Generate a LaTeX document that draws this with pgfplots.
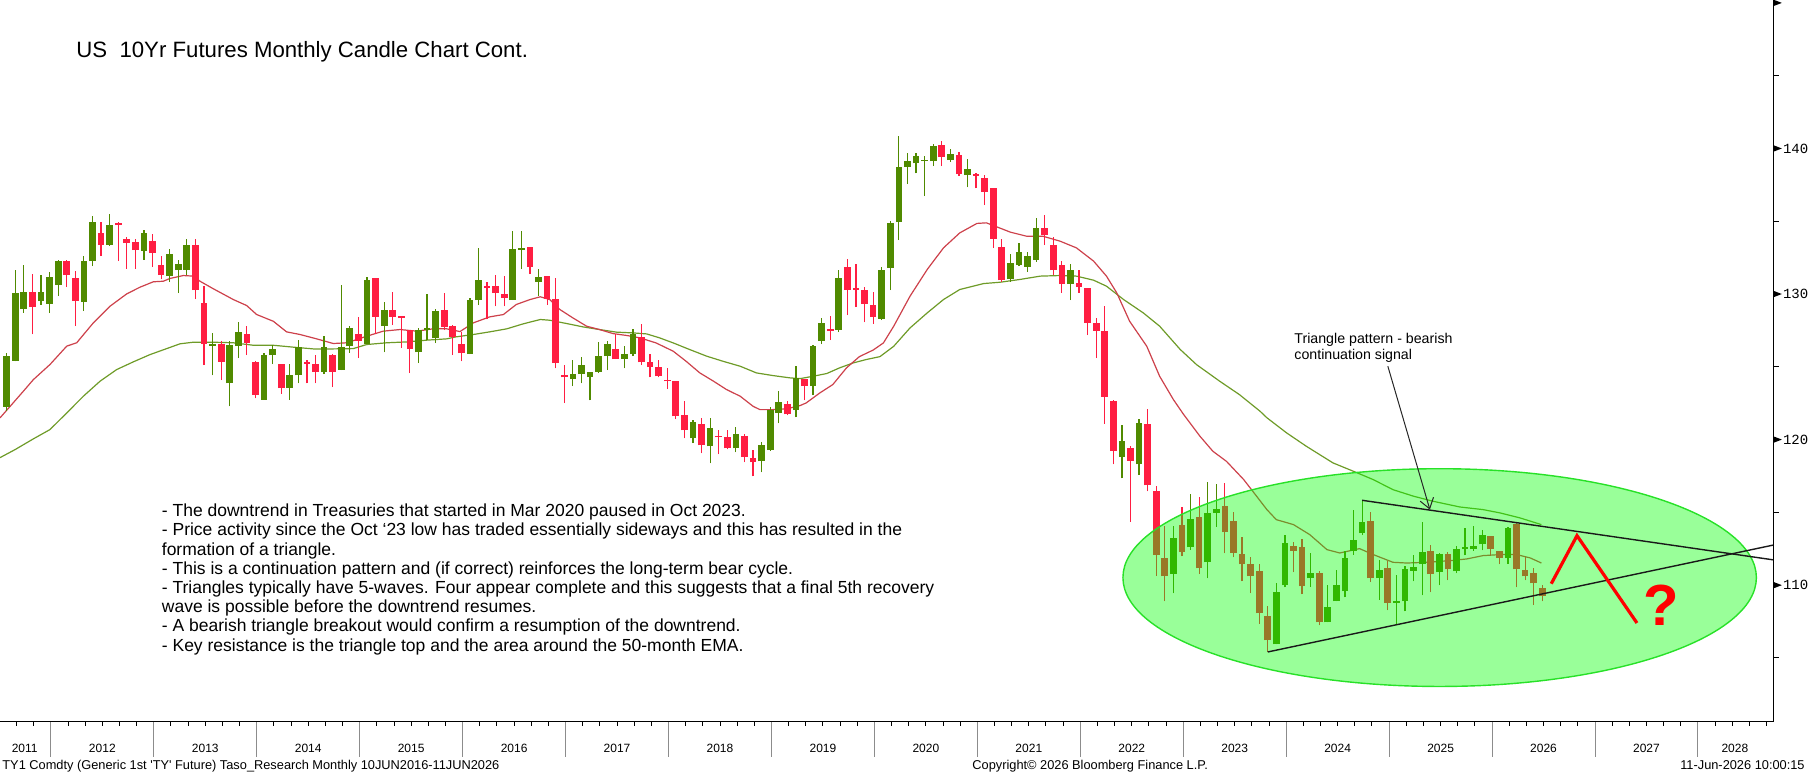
\documentclass[border=0pt]{standalone}
\usepackage{pgfplots}
\pgfplotsset{compat=1.18}
\usepackage{pgfplotstable}
\usepackage{fontspec}
\setmainfont{Liberation Sans}
\newfontfamily\monofont{Liberation Mono}
\usetikzlibrary{arrows.meta}
\definecolor{upc}{RGB}{80,138,0}
\definecolor{dnc}{RGB}{255,30,66}
\definecolor{emar}{RGB}{205,65,75}
\definecolor{emag}{RGB}{110,155,40}
\definecolor{ellb}{RGB}{40,225,40}

% up candles: x open high low close
\pgfplotstableread{
x o h l c
7 122.25 125.96 121.95 125.77
8 125.43 131.68 125.38 130.10
9 128.96 131.96 128.71 130.17
11 129.51 131.34 129.28 130.17
12 129.30 131.50 128.68 131.20
13 130.61 132.37 129.85 132.30
16 129.44 132.60 128.82 132.30
17 132.26 135.35 131.91 134.98
19 133.40 135.53 133.33 134.71
23 132.94 134.43 132.37 134.16
26 131.23 133.06 130.81 132.78
27 131.64 132.37 130.06 132.03
28 131.68 133.81 131.34 133.40
31 126.42 127.33 124.42 126.55
33 123.87 126.76 122.29 126.48
34 126.42 128.11 125.59 127.42
37 122.75 125.96 122.75 125.80
38 125.80 126.48 125.18 126.19
40 123.53 125.18 122.75 124.47
41 124.42 126.83 123.87 126.39
44 124.63 127.10 124.49 126.39
46 124.81 130.59 124.77 126.39
47 126.42 127.83 125.96 127.70
49 126.60 131.20 126.60 130.93
51 127.79 129.42 126.00 128.93
55 126.00 127.70 125.25 127.56
56 127.56 129.97 126.87 127.70
57 126.96 129.00 126.62 128.80
61 125.87 129.76 125.87 129.62
62 129.58 133.13 129.23 130.93
66 129.58 134.30 129.58 133.06
67 133.01 134.30 131.71 133.13
69 130.81 131.75 129.85 131.20
73 124.15 125.50 123.67 124.54
74 124.49 125.70 123.87 125.15
75 124.28 124.63 122.70 124.63
76 124.63 126.69 124.56 125.77
77 125.73 126.80 124.77 126.60
79 125.52 126.46 124.90 125.91
80 125.87 127.63 125.73 127.28
87 120.09 121.33 119.75 121.19
89 119.54 121.47 118.37 120.78
92 119.40 120.85 119.13 120.41
95 118.51 119.82 117.75 119.61
96 119.27 122.22 119.20 122.02
97 121.81 123.32 121.12 122.57
99 122.02 125.04 121.53 124.24
101 123.67 126.53 123.05 126.46
102 126.76 128.34 126.55 128.02
104 127.52 131.68 127.38 131.07
109 128.27 131.87 128.20 131.68
110 131.82 135.05 130.26 134.91
111 134.94 140.85 133.70 138.76
112 138.76 139.72 137.55 139.11
113 138.97 139.72 138.28 139.45
114 139.13 139.47 136.72 139.24
115 139.11 140.28 138.79 140.14
117 139.20 139.93 139.06 139.61
119 138.17 139.31 137.32 138.56
124 131.00 132.78 130.84 132.10
125 132.00 133.52 131.91 132.92
126 131.87 132.92 131.52 132.58
127 132.33 135.24 132.21 134.53
131 130.68 132.07 129.58 131.62
137 118.79 121.03 117.34 119.91
139 118.30 121.44 117.57 121.17
143 110.75 114.04 109.44 113.27
145 112.60 116.29 112.44 114.57
147 111.57 117.11 110.47 114.98
148 114.94 116.98 114.02 115.26
155 105.93 110.17 105.93 109.55
156 109.99 113.43 109.85 112.90
159 110.47 112.23 109.87 110.86
161 107.45 110.03 107.45 108.52
162 108.89 111.06 108.89 110.03
163 109.58 112.33 109.16 111.89
164 112.33 115.19 112.10 113.13
165 113.56 115.83 113.43 114.36
167 110.47 111.75 109.00 111.06
169 108.80 110.67 107.31 108.93
170 108.89 111.34 108.20 111.13
171 111.00 112.10 110.26 111.27
172 111.43 114.36 109.30 112.30
174 110.88 112.23 109.99 112.17
176 110.95 112.67 110.81 112.51
177 112.48 113.95 112.05 112.60
178 112.46 114.09 112.37 112.71
179 112.81 113.81 112.39 113.47
182 111.84 114.02 111.46 113.95
}\upT

% down candles: x open high low close
\pgfplotstableread{
x o h l c
10 130.17 131.41 127.22 129.10
14 132.30 132.37 130.47 131.30
15 131.07 131.55 127.79 129.51
18 134.16 134.98 132.60 133.36
20 134.85 134.98 132.26 134.73
21 133.81 133.90 131.75 133.50
22 133.54 133.81 131.75 133.01
24 133.61 134.09 131.85 132.81
25 131.96 132.58 131.00 131.30
29 133.40 133.81 129.65 130.26
30 129.35 130.54 125.11 126.55
32 126.55 126.76 124.08 125.36
35 127.28 127.77 125.80 126.62
36 125.32 125.38 122.84 123.05
39 125.22 125.22 123.16 123.53
42 125.34 125.45 123.87 125.18
43 125.18 125.80 123.87 124.63
45 125.80 125.87 123.60 124.63
48 127.28 128.45 125.59 126.80
50 131.07 131.13 127.26 128.43
52 128.93 130.17 127.86 128.43
53 128.52 128.52 126.30 128.34
54 127.56 127.56 124.56 126.21
58 128.93 130.04 127.52 127.72
59 127.83 127.90 125.80 127.03
60 126.55 127.38 125.38 125.93
63 130.58 130.86 128.25 130.40
64 130.52 131.34 129.16 130.06
65 129.97 131.27 129.16 129.76
68 133.20 133.20 131.36 131.84
70 131.27 131.27 129.28 129.69
71 129.69 131.07 124.90 125.25
72 124.47 125.11 122.50 124.28
78 126.25 127.28 125.52 125.52
81 127.08 127.97 125.11 125.31
82 125.31 125.87 124.28 124.97
83 124.97 125.50 124.28 124.35
84 124.12 124.90 123.46 124.00
85 124.03 124.03 121.40 121.60
86 121.72 122.68 120.09 120.64
88 121.10 121.47 119.06 119.61
90 120.28 120.69 118.99 120.16
91 120.21 120.69 119.33 119.40
93 120.28 120.35 118.44 118.79
94 118.76 119.27 117.48 118.44
98 122.45 122.63 121.67 121.74
100 124.17 124.17 122.70 123.67
103 127.63 128.52 126.83 127.45
105 131.87 132.42 128.55 130.31
106 130.42 132.07 129.10 130.30
107 130.31 130.47 128.06 129.30
108 129.26 130.17 127.97 128.41
116 140.21 140.48 138.79 139.40
118 139.52 139.77 138.14 138.24
120 138.24 138.28 137.25 138.12
121 137.98 138.21 136.11 137.00
122 137.25 137.30 133.15 133.79
123 133.20 133.79 130.84 130.93
128 134.57 135.42 133.36 134.04
129 133.38 133.95 131.30 131.62
130 131.96 132.26 130.08 130.68
132 130.79 131.64 130.08 130.47
133 130.38 130.38 127.17 128.00
134 128.04 128.34 125.59 127.47
135 127.47 129.19 121.08 122.93
136 122.68 122.75 118.30 119.20
138 119.43 119.54 114.34 118.53
140 121.10 122.13 116.45 116.86
141 116.50 116.84 110.65 112.07
142 111.89 114.04 108.89 110.61
144 114.14 115.37 111.98 112.30
146 114.71 116.06 110.75 111.16
149 115.46 117.04 112.19 113.63
150 114.43 115.05 111.91 112.23
151 112.17 113.33 110.26 111.43
152 111.48 111.96 109.44 110.61
153 110.96 111.48 107.35 108.06
154 107.90 108.57 105.41 106.21
157 112.71 112.94 110.88 112.33
158 112.65 113.15 109.37 109.92
160 110.86 111.00 107.24 107.45
166 114.43 115.05 110.20 110.47
168 111.20 111.66 108.27 108.77
173 112.37 112.74 109.51 110.75
175 112.17 112.30 110.33 111.09
180 113.40 113.40 112.03 112.46
181 112.33 112.33 111.43 111.87
183 114.23 114.36 109.85 111.09
184 111.06 111.91 110.33 110.61
185 110.81 111.16 108.62 110.12
186 109.83 109.99 108.89 109.23
}\dnT

\pgfplotsset{
  candle/.style 2 args={only marks, mark=*, mark size=0.01pt,
    mark options={draw opacity=0, fill opacity=0},
    error bars/.cd, y dir=plus, y explicit, error mark=none,
    error bar style={line width=#1, color=#2}},
}

\begin{document}
\begin{tikzpicture}
\useasboundingbox (0,0) rectangle (904.5pt,387.5pt);
\begin{axis}[
  at={(0pt,387.5pt)}, anchor=north west,
  scale only axis, width=886.5pt, height=361pt,
  xmin=6.22, xmax=212.9, ymin=100.6, ymax=150.2,
  clip=false,
  axis x line*=bottom, axis y line*=right,
  axis line style={-, line width=0.5pt, black},
  ytick=\empty,
  xtick={12.15,24.15,...,204.15},
  xticklabel=\empty,
  tick align=outside,
  major tick length=17.5pt,
  minor tick length=2pt,
  major x tick style={black!45, line width=0.5pt},
  minor xtick={8.15,10.15,...,212.15},
  minor x tick style={black, line width=0.5pt},
]
% moving averages
\addplot[emag, line width=0.6pt] coordinates {(6.22,118.76)(7.97,119.31)(10.11,120.05)(12.05,120.69)(14.0,121.83)(15.94,122.98)(17.88,124.01)(19.82,124.81)(21.76,125.34)(23.71,125.84)(25.65,126.25)(27.2,126.58)(28.76,126.69)(31.09,126.69)(33.42,126.65)(35.75,126.48)(38.08,126.48)(40.41,126.35)(42.74,126.23)(45.07,126.23)(47.40,126.25)(48.96,126.53)(51.29,126.65)(53.62,126.71)(55.95,126.83)(58.28,126.92)(59.4,127.06)(61.4,127.22)(63.3,127.40)(65.3,127.61)(67.2,127.95)(69.2,128.25)(70.3,128.20)(72.3,127.97)(74.2,127.74)(76.1,127.56)(78.1,127.38)(80.0,127.33)(81.6,127.26)(83.1,126.99)(84.7,126.64)(86.6,126.19)(88.6,125.73)(90.5,125.38)(92.5,125.04)(94.4,124.58)(96.3,124.40)(98.3,124.24)(99.5,124.19)(101.0,124.35)(102.6,124.54)(104.1,124.93)(105.7,125.27)(107.2,125.50)(108.8,125.70)(110.4,126.41)(112.3,127.67)(114.3,128.70)(116.2,129.62)(118.1,130.31)(120.9,130.72)(122.8,130.81)(125.1,131.00)(127.5,131.23)(129.8,131.27)(131.7,131.23)(133.7,130.95)(135.2,130.54)(137.2,129.62)(139.5,128.70)(141.4,127.79)(143.8,126.19)(145.7,125.15)(148.4,124.01)(150.7,123.09)(153.1,121.95)(153.9,121.50)(156.2,120.46)(158.5,119.54)(161.6,118.40)(164.0,117.82)(166.3,117.25)(168.6,116.56)(171.0,116.11)(173.3,115.76)(176.4,115.37)(179.1,115.19)(181.1,114.96)(183.4,114.62)(185.9,114.16)};
\addplot[emar, line width=0.6pt] coordinates {(6.22,121.49)(8.94,123.32)(10.11,124.12)(12.05,125.16)(14.0,126.42)(15.16,126.65)(17.1,128.02)(19.04,129.16)(20.99,130.01)(22.54,130.47)(24.09,130.84)(25.26,130.88)(26.04,131.07)(27.59,131.27)(28.76,131.23)(29.53,130.88)(31.09,130.36)(33.42,129.62)(34.97,129.21)(36.14,128.59)(38.08,128.13)(39.63,127.40)(41.19,127.22)(43.13,126.92)(45.07,126.60)(46.63,126.65)(47.79,126.87)(48.96,127.10)(50.90,127.45)(52.84,127.56)(54.79,127.45)(56.73,127.61)(58.28,127.61)(59.84,127.42)(61.4,128.02)(63.3,128.43)(64.9,128.59)(66.4,129.28)(68.0,129.62)(69.2,129.81)(70.3,129.62)(71.5,128.93)(73.0,128.36)(74.6,127.79)(76.1,127.56)(77.7,127.28)(79.3,127.15)(80.8,126.99)(82.7,126.64)(84.7,126.07)(86.2,125.38)(87.8,124.58)(89.4,124.01)(90.9,123.44)(92.5,122.98)(94.0,122.29)(94.8,122.06)(96.3,122.06)(97.9,122.11)(99.5,122.34)(100.2,122.52)(101.8,123.21)(103.3,123.78)(104.9,124.93)(106.4,125.70)(108.0,126.15)(109.2,126.64)(110.4,127.79)(112.3,129.85)(114.3,131.68)(116.2,133.17)(118.1,134.20)(120.1,134.85)(121.2,134.89)(122.0,134.71)(124.0,134.25)(125.9,133.97)(127.8,133.97)(129.8,133.63)(131.7,133.17)(133.7,132.26)(135.2,131.23)(136.4,130.08)(137.9,128.13)(139.9,126.41)(141.4,124.35)(143.0,122.75)(144.2,121.72)(146.1,120.23)(147.6,119.2)(149.2,118.5)(151.2,117.25)(152.7,116.11)(153.9,115.19)(155.0,114.50)(157.0,114.16)(158.9,113.47)(160.9,112.44)(162.4,112.21)(164.7,112.51)(166.3,112.10)(168.6,111.57)(170.2,111.52)(172.5,111.57)(175.2,111.68)(177.2,111.80)(179.1,112.03)(181.1,112.10)(183.0,112.10)(184.6,111.87)(185.9,111.52)};
% wicks
\addplot[candle={0.6pt}{upc}]
  table[x=x, y=l, y error plus expr=\thisrow{h}-\thisrow{l}] {\upT};
\addplot[candle={0.6pt}{dnc}]
  table[x=x, y=l, y error plus expr=\thisrow{h}-\thisrow{l}] {\dnT};
% bodies
\addplot[candle={3.35pt}{upc}]
  table[x=x, y=o, y error plus expr=\thisrow{c}-\thisrow{o}] {\upT};
\addplot[candle={3.35pt}{dnc}]
  table[x=x, y=c, y error plus expr=\thisrow{o}-\thisrow{c}] {\dnT};
% highlight ellipse
\fill[green, fill opacity=0.4] (axis cs:174.04,110.52) ellipse [x radius=36.92, y radius=7.48];
\draw[ellb, line width=0.7pt] (axis cs:174.04,110.52) ellipse [x radius=36.92, y radius=7.48];
% triangle
\draw[black!90, line width=0.7pt] (axis cs:165,115.83) -- (axis cs:212.9,111.74);
\draw[black!90, line width=0.7pt] (axis cs:154,105.41) -- (axis cs:212.9,112.75);
\draw[black!85, line width=0.5pt, -{Straight Barb[length=5pt,width=7pt]}] (axis cs:168.0,125.04) -- (axis cs:172.9,115.19);
% projected path
\draw[red, line width=1.6pt, line join=miter] (axis cs:187.05,110.10) -- (axis cs:190.05,113.40) -- (axis cs:197.04,107.40);
\node[text=red, font=\fontsize{29}{30}\selectfont\bfseries, inner sep=0pt] at (axis cs:199.9,108.6) {?};
% right axis ticks
\pgfplotsinvokeforeach{110,120,130,140,150}{
  \fill ([yshift=1.7pt]axis cs:212.9,#1) -- ([xshift=4.4pt]axis cs:212.9,#1) -- ([yshift=-1.7pt]axis cs:212.9,#1) -- cycle;
}
\pgfplotsinvokeforeach{105,115,125,135,145}{
  \draw[line width=0.5pt] (axis cs:212.9,#1) -- ([xshift=3pt]axis cs:212.9,#1);
}
\pgfplotsinvokeforeach{110,120,130,140}{
  \node[anchor=west, inner sep=0pt, font=\monofont\fontsize{7}{7}\selectfont] at ([xshift=4.8pt]axis cs:212.9,#1) {#1};
}
% year labels
\node[anchor=base, inner sep=0pt, font=\fontsize{6}{7}\selectfont] at ([yshift=-15.15pt]axis cs:9.1,100.6) {2011};
\pgfplotsinvokeforeach{2012,2013,2014,2015,2016,2017,2018,2019,2020,2021,2022,2023,2024,2025,2026,2027}{
  \node[anchor=base, inner sep=0pt, font=\fontsize{6}{7}\selectfont] at ([yshift=-15.15pt]axis cs:{(#1-2011)*12+6.15},100.6) {#1};
}
\node[anchor=base, inner sep=0pt, font=\fontsize{6}{7}\selectfont] at ([yshift=-15.15pt]axis cs:208.45,100.6) {2028};
\end{axis}
% title
\node[anchor=base west, inner sep=0pt, font=\fontsize{11.1}{13}\selectfont] at (38pt,358.65pt) {US\ \ 10Yr Futures Monthly Candle Chart Cont.};
% commentary
\begin{scope}[every node/.style={anchor=base west, inner sep=0pt, font=\fontsize{8.75}{9.6}\selectfont}]
\node at (80.75pt,129.15pt) {- The downtrend in Treasuries that started in Mar 2020 paused in Oct 2023.};
\node at (80.75pt,119.55pt) {- Price activity since the Oct ‘23 low has traded essentially sideways and this has resulted in the};
\node at (80.75pt,109.95pt) {formation of a triangle.};
\node at (80.75pt,100.35pt) {- This is a continuation pattern and (if correct) reinforces the long-term bear cycle.};
\node at (80.75pt,90.75pt) {- Triangles typically have 5-waves. Four appear complete and this suggests that a final 5th recovery};
\node at (80.75pt,81.15pt) {wave is possible before the downtrend resumes.};
\node at (80.75pt,71.55pt) {- A bearish triangle breakout would confirm a resumption of the downtrend.};
\node at (80.75pt,61.95pt) {- Key resistance is the triangle top and the area around the 50-month EMA.};
\end{scope}
% triangle label
\begin{scope}[every node/.style={anchor=base west, inner sep=0pt, font=\fontsize{7.1}{8}\selectfont}]
\node at (647pt,215.5pt) {Triangle pattern - bearish};
\node at (647pt,207.5pt) {continuation signal};
\end{scope}
% footer
\begin{scope}[every node/.style={inner sep=0pt, font=\fontsize{6.4}{7}\selectfont}]
\node[anchor=base west] at (1pt,2.6pt) {TY1 Comdty (Generic 1st \textquotesingle TY\textquotesingle\ Future) Taso\_Research Monthly 10JUN2016-11JUN2026};
\node[anchor=base west] at (486pt,2.6pt) {Copyright© 2026 Bloomberg Finance L.P.};
\node[anchor=base east] at (902.5pt,2.6pt) {11-Jun-2026 10:00:15};
\end{scope}
\end{tikzpicture}
\end{document}
